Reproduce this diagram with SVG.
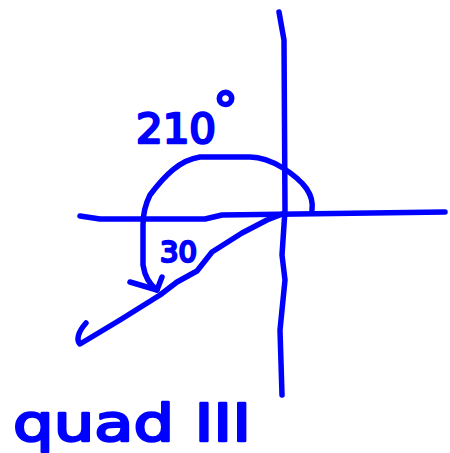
<svg xmlns="http://www.w3.org/2000/svg" width="450" height="453" viewBox="0 0 450 453">
<style>
.ink{fill:none;stroke:#0000ff;stroke-width:5.5;stroke-linecap:round;stroke-linejoin:round}
.txt{fill:#0000ff;stroke:#0000ff;stroke-width:2.5;stroke-linejoin:round;font-family:"DejaVu Sans","Liberation Sans",sans-serif;font-weight:normal}
</style>
<rect width="450" height="453" fill="#ffffff"/>
<g id="axes">
<polyline class="ink" points="80,216 100,219 140,219 205,219 222,215 445,212"/>
<polyline class="ink" points="279,12 284,40 285,210 282,255 285,280 280,330 282,395"/>
</g>
<g id="angle-arc">
<path class="ink" d="M312,210 C314,195 305,182 283,168 C270,160 260,157 250,157 L200,157 C180,160 165,175 150,195 C145,205 143,215 143,225 L143,265 C145,278 150,285 157,290"/>
<polyline class="ink" points="130,282 157,290 162,277"/>
</g>
<g id="terminal-ray">
<path class="ink" d="M285,213 L267,220 L242,233 L212,252 L197,271 L177,282 L160,295 L120,320 L80,344 C76,340 78,332 86,323"/>
</g>
<g id="labels">
<text class="txt" x="136" y="143" font-size="40" textLength="80" lengthAdjust="spacingAndGlyphs">210</text>
<text class="txt" x="213" y="128" font-size="50">°</text>
<text class="txt" x="160" y="262" font-size="29" font-weight="bold">30</text>
<text class="txt" x="13" y="441" font-size="52" textLength="238" lengthAdjust="spacingAndGlyphs">quad III</text>
</g>
</svg>
